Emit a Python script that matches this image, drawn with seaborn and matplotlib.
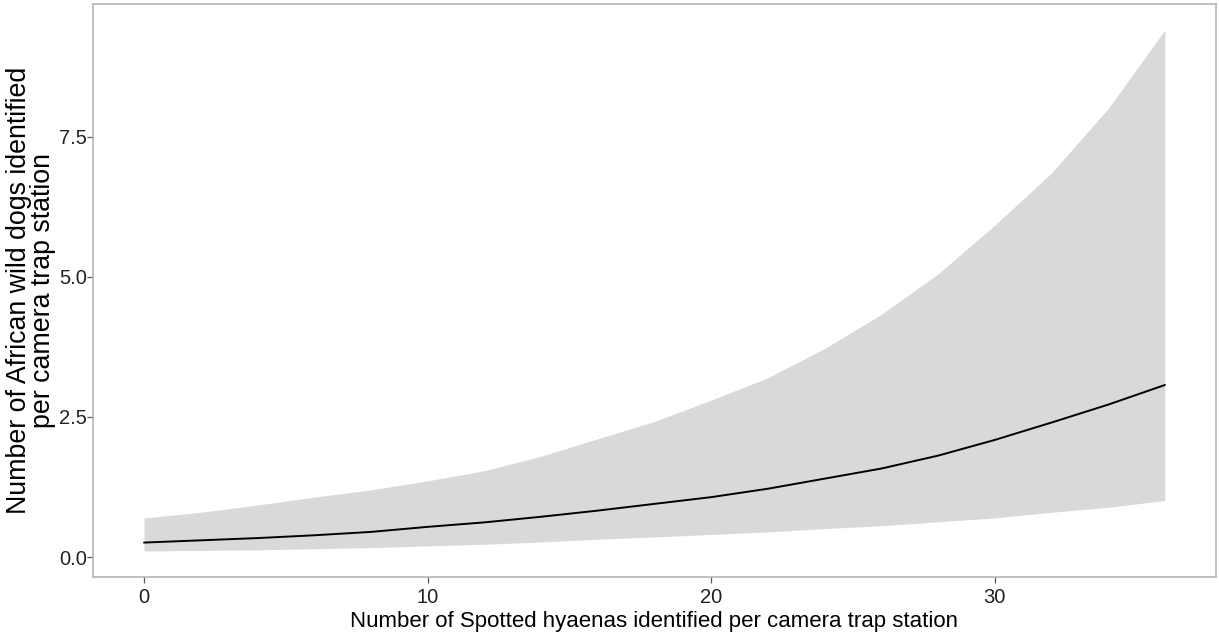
import matplotlib
matplotlib.use("Agg")
import matplotlib.pyplot as plt
import seaborn as sns
import pandas as pd

# Data
hyaenas = [0, 2, 4, 6, 8, 10, 12, 14, 16, 18, 20, 22, 24, 26, 28, 30, 32, 34, 36]
fit = [0.26, 0.30, 0.34, 0.39, 0.45, 0.54, 0.62, 0.72, 0.83, 0.95, 1.07, 1.22,
       1.40, 1.58, 1.81, 2.09, 2.40, 2.72, 3.07]
upper = [0.70, 0.80, 0.93, 1.07, 1.20, 1.36, 1.54, 1.80, 2.11, 2.42, 2.80, 3.20,
         3.72, 4.33, 5.05, 5.92, 6.85, 8.00, 9.40]
lower = [0.11, 0.12, 0.13, 0.15, 0.17, 0.20, 0.23, 0.27, 0.32, 0.36, 0.405, 0.45,
         0.51, 0.56, 0.63, 0.70, 0.80, 0.89, 1.01]
x_ticks = [0, 10, 20, 30]
y_ticks = [0.0, 2.5, 5.0, 7.5]
y_tick_labels = ["0.0", "2.5", "5.0", "7.5"]

df = pd.DataFrame({"hyaenas": hyaenas, "fit": fit, "upper": upper, "lower": lower})

sns.set_theme(style="white")
plt.rcParams["font.family"] = ["Liberation Sans", "DejaVu Sans"]

fig = plt.figure(figsize=(12.19, 6.40), dpi=100)
ax = fig.add_axes([0.0763, 0.0984, 0.9212, 0.8954])

ax.fill_between(df["hyaenas"], df["lower"], df["upper"], color="#d9d9d9", linewidth=0, zorder=1)
sns.lineplot(data=df, x="hyaenas", y="fit", ax=ax, color="black", linewidth=1.4, zorder=2)

xr = max(hyaenas) - min(hyaenas)
ax.set_xlim(min(hyaenas) - 0.05 * xr, max(hyaenas) + 0.05 * xr)
yr = max(upper) - min(lower)
ax.set_ylim(min(lower) - 0.05 * yr, max(upper) + 0.05 * yr)

ax.set_xticks(x_ticks)
ax.set_xticklabels([str(t) for t in x_ticks])
ax.set_yticks(y_ticks)
ax.set_yticklabels(y_tick_labels)

ax.tick_params(axis="both", which="major", length=4, width=0.9, color="#555555",
               labelsize=14.5, labelcolor="#222222", direction="out", pad=0.5,
               bottom=True, left=True)
ax.tick_params(axis="x", pad=4)

for s in ax.spines.values():
    s.set_color("#b5b5b5")
    s.set_linewidth(1.2)

ax.set_xlabel("Number of Spotted hyaenas identified per camera trap station",
              fontsize=16, color="black", labelpad=3)
ax.set_ylabel("Number of African wild dogs identified\nper camera trap station",
              fontsize=19.3, color="black", linespacing=0.9)
ax.yaxis.set_label_coords(-0.033, 0.5)
ax.grid(False)

fig.savefig("out.png", dpi=100, facecolor="white")
